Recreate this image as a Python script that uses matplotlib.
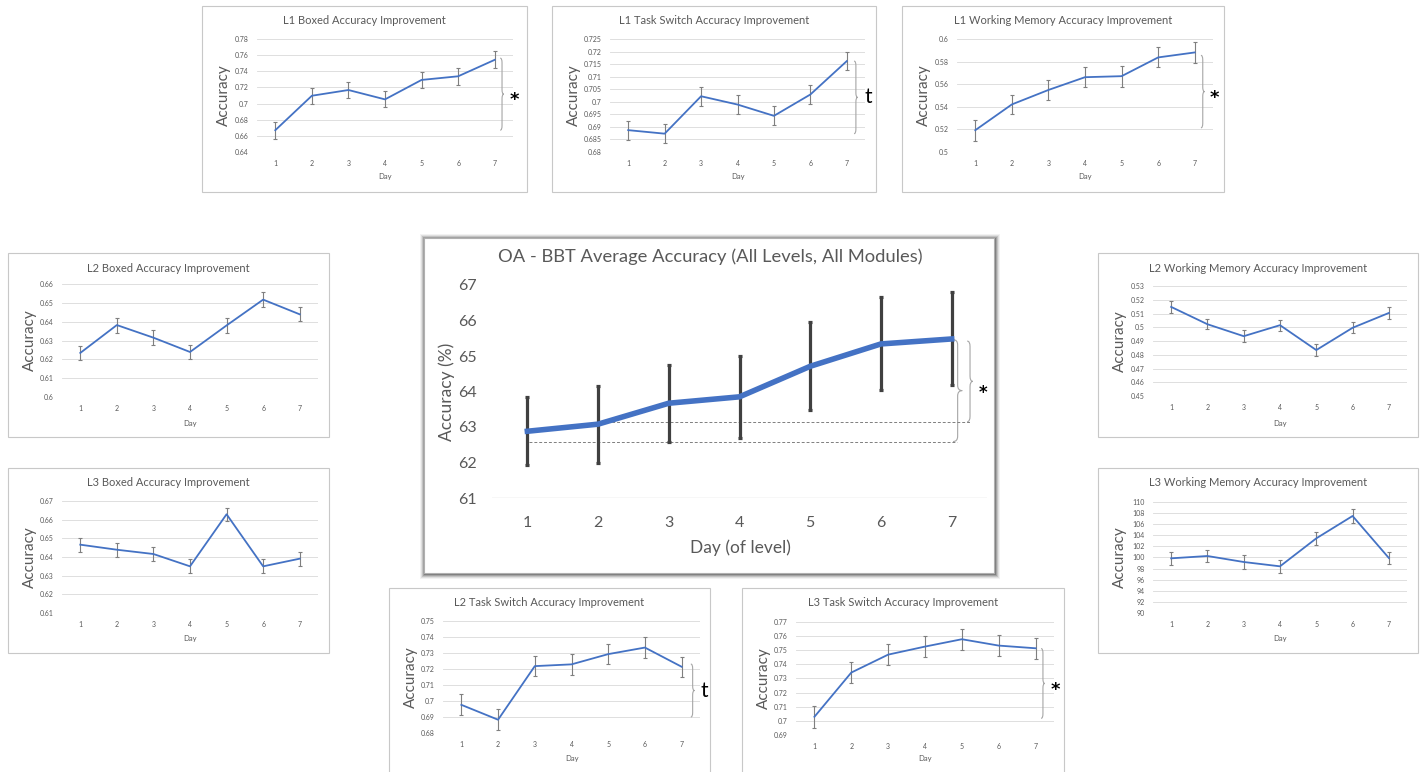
#!/usr/bin/env python3
"""Composite of BBT accuracy charts: overall average plus nine level/module panels"""
import numpy as np
import matplotlib
matplotlib.use('Agg')
import matplotlib.pyplot as plt
from matplotlib.patches import Rectangle, PathPatch
from matplotlib.path import Path

plt.rcParams['font.family'] = ['Lato', 'DejaVu Sans']

W, H = 1425, 772
LINE = '#4472C4'
GREY_TXT = '#595959'
GRID = '#d9d9d9'

days = [1, 2, 3, 4, 5, 6, 7]

# overall average (percent)
oa_acc = [62.88, 63.08, 63.67, 63.85, 64.71, 65.34, 65.48]
oa_err = [0.96, 1.08, 1.09, 1.16, 1.24, 1.31, 1.31]
oa_ref_hi = 63.15
oa_ref_lo = 62.59

l1_boxed_acc = [0.667, 0.7097, 0.7168, 0.7052, 0.7293, 0.7338, 0.7542]
l1_boxed_err = [0.0105, 0.010, 0.010, 0.010, 0.0104, 0.0108, 0.0104]

l1_task_acc = [0.6887, 0.6873, 0.7022, 0.6989, 0.6944, 0.7029, 0.7162]
l1_task_err = [0.0038, 0.0038, 0.0037, 0.0038, 0.0038, 0.0036, 0.0037]

l1_wm_acc = [0.5193, 0.5421, 0.5549, 0.5662, 0.5671, 0.5837, 0.5881]
l1_wm_err = [0.0094, 0.0086, 0.0092, 0.0091, 0.0092, 0.0089, 0.0089]

l2_boxed_acc = [0.6234, 0.6382, 0.6315, 0.6239, 0.6380, 0.6517, 0.6439]
l2_boxed_err = [0.0039, 0.0040, 0.0040, 0.0038, 0.0039, 0.0039, 0.0038]

l3_boxed_acc = [0.6466, 0.6439, 0.6416, 0.6350, 0.6629, 0.6350, 0.6391]
l3_boxed_err = [0.0038, 0.0038, 0.0037, 0.0037, 0.0036, 0.0037, 0.0038]

l2_wm_acc = [0.5148, 0.5022, 0.4935, 0.5015, 0.4834, 0.4996, 0.5104]
l2_wm_err = [0.0041, 0.0037, 0.0042, 0.0041, 0.0041, 0.0041, 0.0042]

l3_wm_acc = [99.85, 100.27, 99.19, 98.41, 103.45, 107.48, 99.91]
l3_wm_err = [1.14, 1.14, 1.2, 1.15, 1.2, 1.25, 1.15]

l2_task_acc = [0.6976, 0.6883, 0.7218, 0.7229, 0.7293, 0.7334, 0.7214]
l2_task_err = [0.0065, 0.0065, 0.0064, 0.0065, 0.0062, 0.0067, 0.0064]

l3_task_acc = [0.7029, 0.7342, 0.7469, 0.7526, 0.7578, 0.7533, 0.7514]
l3_task_err = [0.0077, 0.0073, 0.0074, 0.0072, 0.0073, 0.0072, 0.0074]

fig = plt.figure(figsize=(W / 100, H / 100), dpi=100)
fig.patch.set_facecolor('white')


def px_axes(rect):
    x0, y0, x1, y1 = rect
    return fig.add_axes([x0 / W, 1 - y1 / H, (x1 - x0) / W, (y1 - y0) / H])


def px_box(rect, **kw):
    x0, y0, x1, y1 = rect
    fig.add_artist(Rectangle((x0 / W, 1 - y1 / H), (x1 - x0) / W, (y1 - y0) / H,
                             transform=fig.transFigure, **kw))


def px_text(x, y, s, **kw):
    fig.text(x / W, 1 - y / H, s, **kw)


def brace(ax, x, y_top, y_bot, w, r, **kw):
    xm = x + w / 2
    ym = (y_top + y_bot) / 2
    verts = [(x, y_top), (xm, y_top), (xm, y_top - r),
             (xm, ym + r), (xm, ym), (x + w, ym),
             (xm, ym), (xm, ym - r),
             (xm, y_bot + r), (xm, y_bot), (x, y_bot)]
    codes = [Path.MOVETO, Path.CURVE3, Path.CURVE3,
             Path.LINETO, Path.CURVE3, Path.CURVE3,
             Path.CURVE3, Path.CURVE3,
             Path.LINETO, Path.CURVE3, Path.CURVE3]
    ax.add_patch(PathPatch(Path(verts, codes), fill=False, clip_on=False, **kw))


def mark(ax, x, y, s, size):
    # star / t next to a brace
    if s == '*':
        ax.annotate(s, xy=(x, y), xytext=(0, -0.62 * size), textcoords='offset points',
                    ha='center', va='baseline', fontsize=size, fontweight='bold',
                    family='DejaVu Sans', annotation_clip=False)
    else:
        ax.annotate(s, xy=(x, y), ha='center', va='center', fontsize=size,
                    annotation_clip=False)


# box, axes area (pixels), y range, brace
panels = [
    ("L1 Boxed Accuracy Improvement", l1_boxed_acc, l1_boxed_err,
     (202, 6, 527, 192), (257, 39, 513, 152), (0.64, 0.78, 0.02), ('*', 0.7563, 0.667, 7.15)),
    ("L1 Task Switch Accuracy Improvement", l1_task_acc, l1_task_err,
     (552, 6, 876, 192), (610, 39, 865, 152), (0.68, 0.725, 0.005), ('t', 0.7162, 0.6873, 7.2)),
    ("L1 Working Memory Accuracy Improvement", l1_wm_acc, l1_wm_err,
     (902, 6, 1224, 192), (957, 39, 1213, 152), (0.5, 0.6, 0.02), ('*', 0.5855, 0.5214, 7.17)),
    ("L2 Boxed Accuracy Improvement", l2_boxed_acc, l2_boxed_err,
     (8, 253, 329, 437), (62, 284, 318, 397), (0.6, 0.66, 0.01), None),
    ("L3 Boxed Accuracy Improvement", l3_boxed_acc, l3_boxed_err,
     (8, 468, 329, 653), (62, 501, 318, 613), (0.61, 0.67, 0.01), None),
    ("L2 Working Memory Accuracy Improvement", l2_wm_acc, l2_wm_err,
     (1098, 253, 1418, 437), (1153, 286, 1407, 396), (0.45, 0.53, 0.01), None),
    ("L3 Working Memory Accuracy Improvement", l3_wm_acc, l3_wm_err,
     (1098, 468, 1418, 653), (1153, 502, 1407, 613), (90, 110, 2), None),
    ("L2 Task Switch Accuracy Improvement", l2_task_acc, l2_task_err,
     (389, 588, 710, 800), (443, 621, 700, 733), (0.68, 0.75, 0.01), ('t', 0.7231, 0.69, 7.25)),
    ("L3 Task Switch Accuracy Improvement", l3_task_acc, l3_task_err,
     (742, 588, 1064, 800), (796, 622, 1054, 735), (0.69, 0.77, 0.01), ('*', 0.7512, 0.7018, 7.15)),
]

for title, acc, err, box, area, (lo, hi, step), note in panels:
    px_box(box, facecolor='white', edgecolor='#c8c8c8', lw=0.8, zorder=-1)
    ax = px_axes(area)
    ax.set_facecolor('none')
    ax.errorbar(days, acc, yerr=err, color=LINE, lw=1.3, ecolor='#7f7f7f',
                elinewidth=0.8, capsize=1.6, capthick=0.8)
    n = int(round((hi - lo) / step)) + 1
    ticks = np.round(np.linspace(lo, hi, n), 4)
    ax.set_yticks(ticks)
    ax.set_yticklabels([f'{t:g}' for t in ticks])
    ax.set_xticks(days)
    ax.set_xlim(0.5, 7.5)
    ax.set_ylim(lo, hi)
    ax.grid(axis='y', color=GRID, lw=0.6)
    ax.set_axisbelow(True)
    for sp in ax.spines.values():
        sp.set_visible(False)
    ax.tick_params(length=0, labelsize=5, labelcolor=GREY_TXT)
    ax.tick_params(axis='x', pad=5.5)
    ax.tick_params(axis='y', pad=6)

    cx = (box[0] + box[2]) / 2
    px_text(cx, box[1] + 15, title, ha='center', va='center', fontsize=8, color=GREY_TXT)
    px_text(box[0] + 22, (area[1] + area[3]) / 2, 'Accuracy', rotation=90,
            ha='center', va='center', fontsize=11, color=GREY_TXT)
    px_text((area[0] + area[2]) / 2, box[1] + 171, 'Day', ha='center', va='center',
            fontsize=5.5, color=GREY_TXT)

    if note is not None:
        s, top, bot, bx = note
        brace(ax, bx, top, bot, 0.1, 0.04 * (hi - lo), color='#a6a6a6', lw=0.8)
        mark(ax, bx + 0.38, (top + bot) / 2, s, 13 if s == '*' else 15)

# main chart with a soft grey shadow
main_box = (424, 238, 994, 573)
for k, a in zip(range(5, 0, -1), [0.05, 0.08, 0.12, 0.16, 0.22]):
    px_box((main_box[0] - k + 1, main_box[1] - k + 1, main_box[2] + k + 1, main_box[3] + k + 1),
           facecolor='black', edgecolor='none', alpha=a, zorder=-3)
px_box(main_box, facecolor='white', edgecolor='#b0b0b0', lw=0.8, zorder=-2)

ax = px_axes((492, 285, 987, 498))
ax.set_facecolor('none')
ax.errorbar(days, oa_acc, yerr=oa_err, color=LINE, lw=4, ecolor='#404040',
            elinewidth=2.3, capsize=1.6, capthick=2.3, zorder=3)
ax.set_xlim(0.5, 7.5)
ax.set_ylim(61, 67)
ax.set_xticks(days)
ax.set_yticks(range(61, 68))
for sp in ax.spines.values():
    sp.set_visible(False)
ax.axhline(61, color=GRID, lw=1, zorder=1)
ax.tick_params(length=0, labelsize=11.5, labelcolor=GREY_TXT)
ax.tick_params(axis='x', pad=13)
ax.tick_params(axis='y', pad=11)

ax.hlines(oa_ref_hi, 2.05, 7.27, color='#7f7f7f', lw=0.7, linestyles=(0, (3, 2)), zorder=2)
ax.hlines(oa_ref_lo, 1.03, 7.07, color='#7f7f7f', lw=0.7, linestyles=(0, (3, 2)), zorder=2)
brace(ax, 7.02, 65.46, oa_ref_lo, 0.13, 0.15, color='#a6a6a6', lw=0.8)
brace(ax, 7.22, 65.42, oa_ref_hi, 0.08, 0.15, color='#a6a6a6', lw=0.8)
mark(ax, 7.44, 64.1, '*', 12)

px_text(710, 257, 'OA - BBT Average Accuracy (All Levels, All Modules)', ha='center',
        va='center', fontsize=13.2, color=GREY_TXT)
px_text(447, 392, 'Accuracy (%)', rotation=90, ha='center', va='center',
        fontsize=12.5, color=GREY_TXT)
px_text(740, 548, 'Day (of level)', ha='center', va='center', fontsize=12.5, color=GREY_TXT)

fig.savefig('out.png', dpi=100, facecolor='white')
